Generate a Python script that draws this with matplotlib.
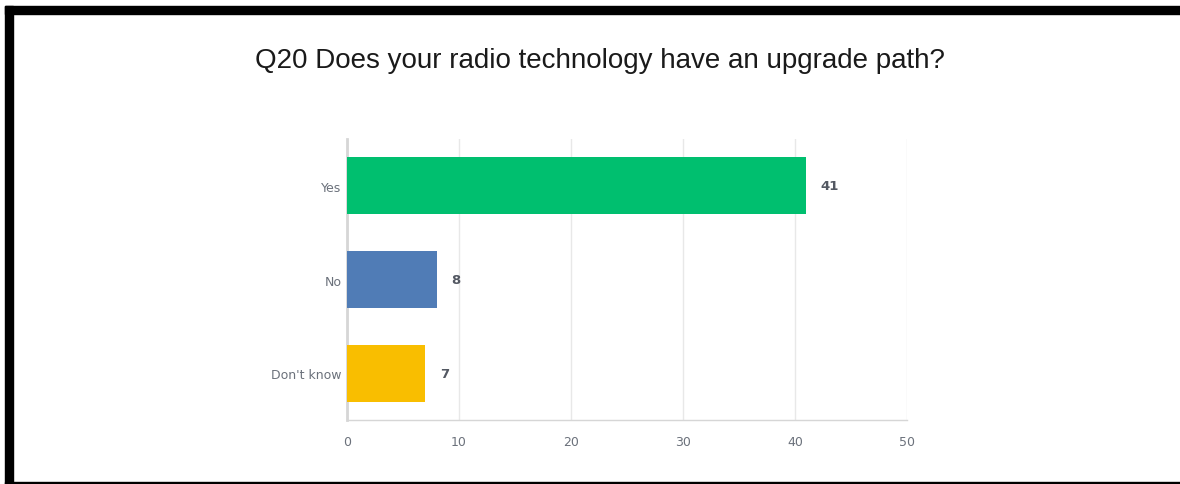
import matplotlib
matplotlib.use("Agg")
import matplotlib.pyplot as plt
from matplotlib.patches import Rectangle

title = "Q20 Does your radio technology have an upgrade path?"
categories = ["Yes", "No", "Don't know"]
values = [41, 8, 7]
colors = ["#00BF6F", "#507CB6", "#F9BE00"]
xticks = [0, 10, 20, 30, 40, 50]

fig = plt.figure(figsize=(11.8, 4.85), dpi=100)
fig.patch.set_facecolor("white")

# black frame bands
W, H = 1180, 485
def band(x0, y0, x1, y1):
    fig.patches.append(Rectangle((x0 / W, 1 - y1 / H), (x1 - x0) / W, (y1 - y0) / H,
                                 transform=fig.transFigure, color="black", zorder=10))
band(5, 7, 1180, 15)
band(5, 7, 13, 485)
band(5, 483, 1180, 485)

ax = fig.add_axes([347 / W, 1 - 421 / H, 560 / W, 281 / H])
ypos = list(range(len(categories)))
ax.barh(ypos, values, height=0.61, color=colors, zorder=3)
ax.set_ylim(len(categories) - 0.5, -0.5)
ax.set_xlim(0, 50)
ax.set_xticks(xticks)
ax.set_xticklabels([str(t) for t in xticks])
ax.set_yticks(ypos)
ax.set_yticklabels(categories)
ax.tick_params(axis="both", length=0, labelsize=9, colors="#6B717B")
ax.tick_params(axis="x", pad=11)
ax.tick_params(axis="y", pad=4)
ax.grid(axis="x", color="#E8E8E8", linewidth=1, zorder=0)
for s in ["top", "right"]:
    ax.spines[s].set_visible(False)
ax.spines["left"].set_color("#D6D6D6")
ax.spines["left"].set_linewidth(2)
ax.spines["bottom"].set_color("#D6D6D6")
ax.spines["bottom"].set_linewidth(1)

for y, v in zip(ypos, values):
    ax.text(v + 1.3, y, str(v), va="center", ha="left", fontsize=9.5,
            fontweight="bold", color="#535862")

fig.text(600 / W, 1 - 61 / H, title, ha="center", va="center",
         fontsize=20, family="Liberation Sans", color="#1a1a1a")

fig.savefig("out.png", dpi=100)
